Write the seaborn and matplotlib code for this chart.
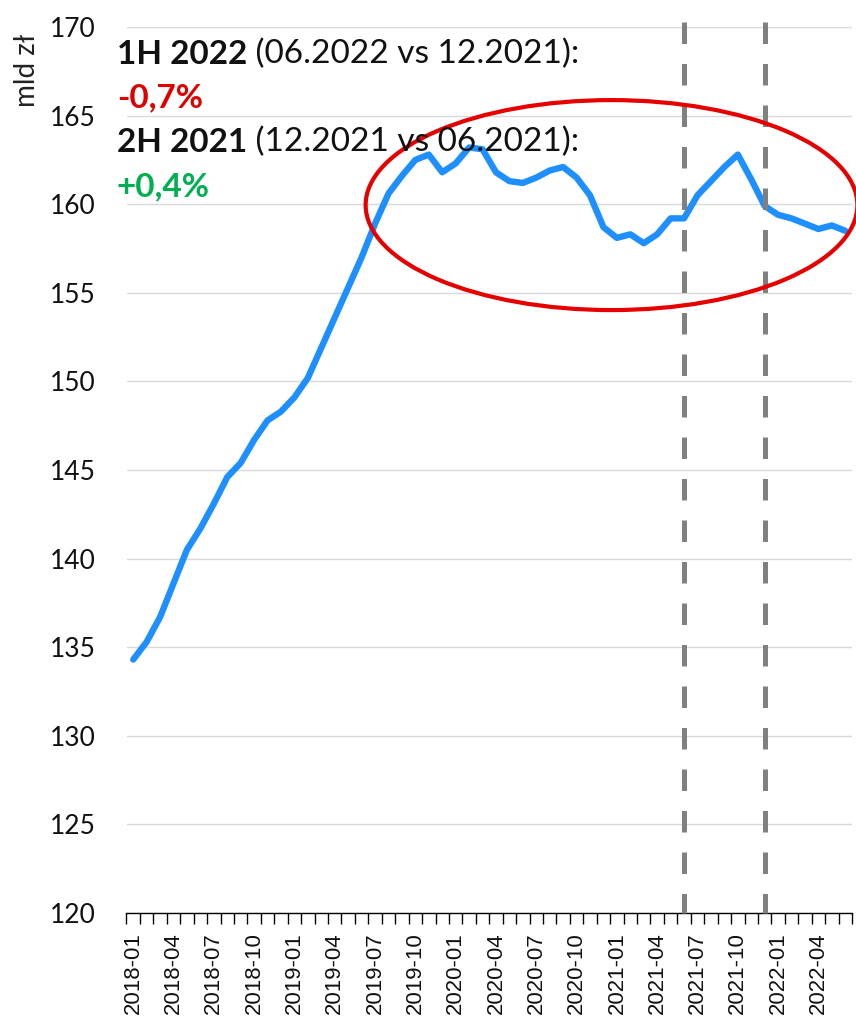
import numpy as np
import pandas as pd
import matplotlib
matplotlib.use("Agg")
import matplotlib.pyplot as plt
import seaborn as sns
from matplotlib.patches import Ellipse

# ---- data ----
months = pd.period_range("2018-01", "2022-06", freq="M").strftime("%Y-%m").tolist()
values = [134.3, 135.3, 136.7, 138.6, 140.5, 141.7, 143.1, 144.6, 145.4, 146.7,
          147.8, 148.3, 149.1, 150.2, 151.9, 153.6, 155.3, 157.0, 158.9, 160.6,
          161.6, 162.5, 162.8, 161.8, 162.3, 163.2, 163.1, 161.8, 161.3, 161.2,
          161.5, 161.9, 162.1, 161.5, 160.5, 158.7, 158.1, 158.3, 157.8, 158.3,
          159.2, 159.2, 160.5, 161.3, 162.1, 162.8, 161.4, 159.9, 159.4, 159.2,
          158.9, 158.6, 158.8, 158.5]
marker_months = ["2021-06", "2021-12"]
yticks = list(range(120, 171, 5))
ylabel = "mld zł"
ann_lines = [("1H 2022", " (06.2022 vs 12.2021):"), ("2H 2021", " (12.2021 vs 06.2021):")]
ann_values = ["-0,7%", "+0,4%"]
ann_colors = ["#E00000", "#00B050"]

df = pd.DataFrame({"idx": np.arange(len(months)), "month": months, "value": values})

sns.set_theme(style="white")
plt.rcParams["font.family"] = ["Lato", "DejaVu Sans"]

fig = plt.figure(figsize=(8.56, 10.17), dpi=100)
ax = fig.add_axes([126.5 / 856, 1 - 913 / 1017, (852 - 126.5) / 856, (913 - 27) / 1017])

# grid
ax.set_ylim(120, 170)
ax.set_yticks(yticks)
ax.yaxis.grid(True, color="#D9D9D9", lw=1)
ax.set_axisbelow(True)

# line
sns.lineplot(data=df, x="idx", y="value", color="#1E8FFF", lw=4.6, ax=ax,
             solid_joinstyle="round", solid_capstyle="round")

# vertical dashed lines
for m in marker_months:
    i = months.index(m)
    ax.plot([i, i], [170.3, 120], color="#808080", lw=3.6,
            linestyle=(0, (4.3, 4.0)), clip_on=False, zorder=4)

# ellipse
ax.add_patch(Ellipse((35.6, 159.95), 36.6, 11.85, fill=False, ec="#E60000",
                     lw=3.0, clip_on=False, zorder=5))

ax.set_xlim(-0.5, len(months) - 0.5)
ax.set_xticks(df["idx"][::3])
ax.set_xticklabels(df["month"][::3], rotation=90, family="Liberation Sans", fontsize=16,
                   color="#111111")
ax.set_xticks(np.arange(-0.5, len(months), 1), minor=True)
ax.tick_params(axis="x", which="major", length=0, pad=14)
ax.tick_params(axis="x", which="minor", length=8, width=1, color="black", direction="out", bottom=True)
ax.tick_params(axis="y", length=0, pad=22, labelsize=19, labelcolor="#111111")
for s in ["top", "right", "left"]:
    ax.spines[s].set_visible(False)
ax.spines["bottom"].set_color("black")
ax.spines["bottom"].set_linewidth(1)
ax.set_xlabel("")
ax.set_ylabel("")

fig.text(27 / 856, 1 - 70 / 1017, ylabel, rotation=90, ha="center", va="center",
         fontsize=20, color="#222222")

# annotations
fig.canvas.draw()
renderer = fig.canvas.get_renderer()
ys = [54, 142]
ys_val = [98, 187]
fs = 24
for (b, n), yv, val, vy, col in zip(ann_lines, ys, ann_values, ys_val, ann_colors):
    t = fig.text(117 / 856, 1 - yv / 1017, b, fontsize=fs, fontweight="bold",
                 ha="left", va="center", color="#111111", zorder=10)
    bb = t.get_window_extent(renderer)
    fig.text(bb.x1 / 856, 1 - yv / 1017, n, fontsize=fs, ha="left", va="center",
             color="#111111", zorder=10)
    fig.text(117 / 856, 1 - vy / 1017, val, fontsize=fs, fontweight="bold",
             ha="left", va="center", color=col, zorder=10)

fig.savefig("out.png", dpi=100)
